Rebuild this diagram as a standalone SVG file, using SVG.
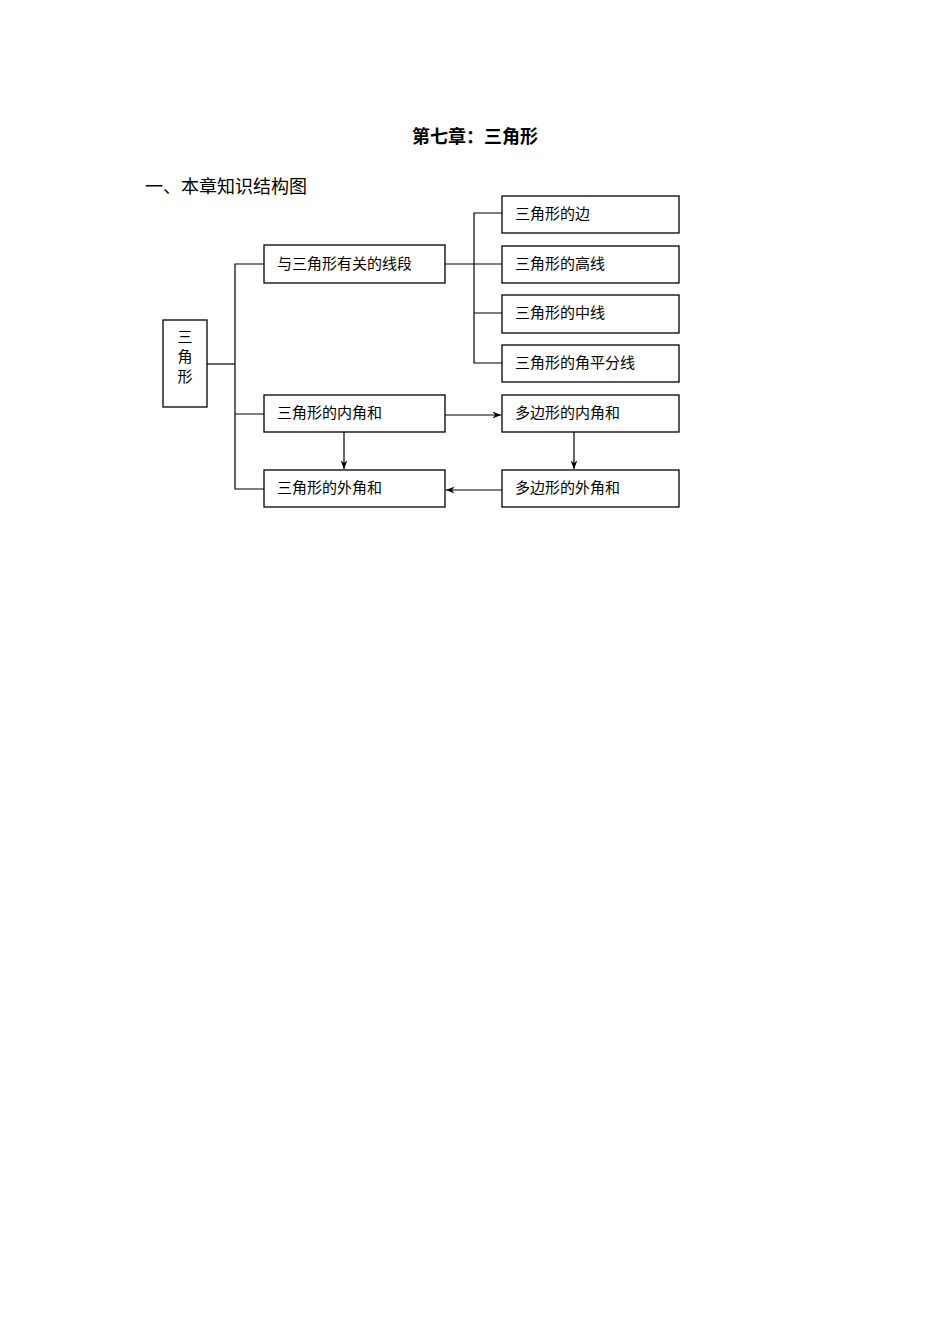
<svg xmlns="http://www.w3.org/2000/svg" width="950" height="1344" viewBox="0 0 950 1344">
<style>
text{font-family:"Liberation Serif","Noto Sans CJK SC",serif;fill:#000}
.n{font-size:15px}
rect{fill:#fff;stroke:#000;stroke-width:1.3}
.c line,.c path{stroke:#000;stroke-width:1.2;fill:none}
</style>
<defs><marker id="a" viewBox="0 0 10 10" refX="10" refY="5" markerWidth="7" markerHeight="7" orient="auto"><path d="M0,1 L10,5 L0,9 L3,5z" fill="#000"/></marker></defs>
<rect x="0" y="0" width="950" height="1344" style="stroke:none"/>
<text x="475" y="143" font-size="18" font-weight="bold" text-anchor="middle">第七章：三角形</text>
<text x="145" y="193" font-size="18">一、本章知识结构图</text>
<g class="c">
<line x1="207" y1="364" x2="235" y2="364"/>
<path d="M264,264 H235 V489 H264 M235,414 H264"/>
<path d="M445,264 H502 M502,213 H474 V363 H502 M474,313 H502"/>
<line x1="445" y1="415" x2="501" y2="415" marker-end="url(#a)"/>
<line x1="344" y1="432" x2="344" y2="469" marker-end="url(#a)"/>
<line x1="574" y1="432" x2="574" y2="469" marker-end="url(#a)"/>
<line x1="502" y1="490" x2="446" y2="490" marker-end="url(#a)"/>
</g>
<g id="n0"><rect x="163" y="320" width="44" height="87"/><text class="n" x="185" y="342" text-anchor="middle">三</text><text class="n" x="185" y="362" text-anchor="middle">角</text><text class="n" x="185" y="382" text-anchor="middle">形</text></g>
<g id="n1"><rect x="264" y="245" width="181" height="38"/><text class="n" x="277" y="269">与三角形有关的线段</text></g>
<g id="n2"><rect x="502" y="196" width="177" height="37"/><text class="n" x="515" y="219">三角形的边</text></g>
<g id="n3"><rect x="502" y="246" width="177" height="37"/><text class="n" x="515" y="269">三角形的高线</text></g>
<g id="n4"><rect x="502" y="295" width="177" height="38"/><text class="n" x="515" y="318">三角形的中线</text></g>
<g id="n5"><rect x="502" y="345" width="177" height="37"/><text class="n" x="515" y="368">三角形的角平分线</text></g>
<g id="n6"><rect x="264" y="395" width="181" height="37"/><text class="n" x="277" y="418">三角形的内角和</text></g>
<g id="n7"><rect x="502" y="395" width="177" height="37"/><text class="n" x="515" y="418">多边形的内角和</text></g>
<g id="n8"><rect x="264" y="470" width="181" height="37"/><text class="n" x="277" y="493">三角形的外角和</text></g>
<g id="n9"><rect x="502" y="470" width="177" height="37"/><text class="n" x="515" y="493">多边形的外角和</text></g>
</svg>
